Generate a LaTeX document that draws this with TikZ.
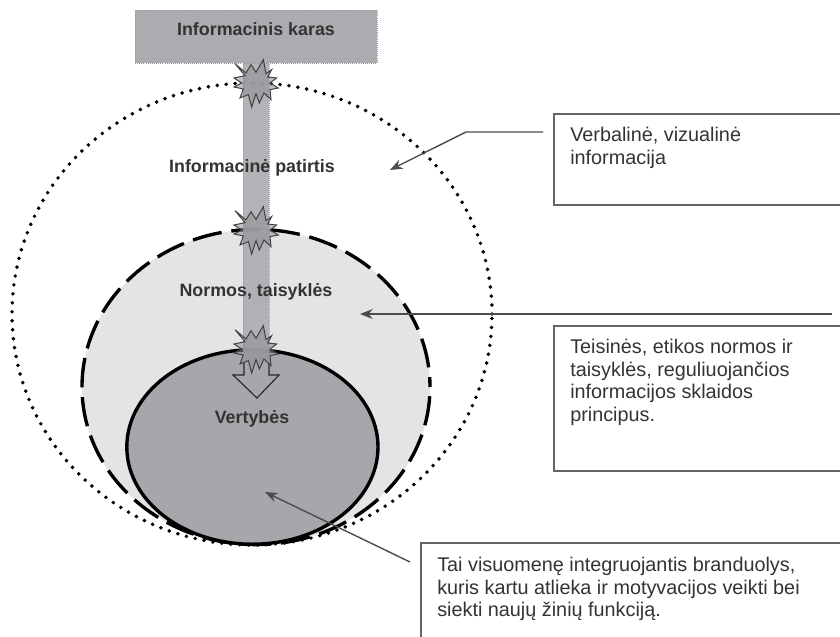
\documentclass[tikz,border=0pt]{standalone}
\usepackage{fontspec}
\setmainfont{Liberation Sans}
\usetikzlibrary{arrows.meta}
\definecolor{barfill}{HTML}{ABACB0}
\definecolor{corefill}{HTML}{A6A7AA}
\definecolor{normfill}{HTML}{E3E4E6}
\definecolor{burstfill}{HTML}{8E8F93}
\definecolor{inktext}{HTML}{333333}
\tikzset{
  ring/.style={line width=2.4pt},
  label/.style={font=\bfseries\fontsize{12.7}{14}\selectfont,text=inktext,inner sep=0pt},
  boxline/.style={draw=black!60,line width=1.2pt},
  note/.style={anchor=north west,align=left,font=\fontsize{14.1}{16.1}\selectfont,text=inktext,inner sep=0pt},
  pointer/.style={draw=black!70,line width=1pt,-{Stealth[length=9pt,width=7pt]}},
  burst/.pic={
    \draw[x=.00833cm,y=-.00833cm,draw=black!75,line width=.7pt,fill=burstfill,fill opacity=.55,line join=miter]
      (-63,-58)--(-30,-30)--(-15,-55)--(0,-32)--(22,-70)--(30,-28)--(47,-40)--(35,-18)
      --(62,-15)--(42,0)--(67,15)--(42,20)--(45,50)--(24,30)--(10,60)--(0,32)
      --(-13,72)--(-23,35)--(-48,45)--(-38,18)--(-66,12)--(-43,0)--(-66,-15)--(-33,-22)--cycle;
  }
}
\begin{document}
\begin{tikzpicture}
  \useasboundingbox (0,0) rectangle (21,15.925);
  % rings
  \draw[line cap=round,line width=2.8pt,dash pattern=on 0pt off 6.4pt] (6.3,8.075) ellipse [x radius=6cm,y radius=5.775cm];
  \fill[normfill] (6.4,6.25) ellipse [x radius=4.35cm,y radius=3.94cm];
  \draw[ring,dash pattern=on 21pt off 7pt,dash phase=14pt] (6.4,6.25) ellipse [x radius=4.35cm,y radius=3.94cm];
  \draw[ring,fill=corefill] (6.31,4.75) ellipse [x radius=3.14cm,y radius=2.43cm];
  % bar and heading
  \fill[barfill,fill opacity=.9] (6.08,7.125) rectangle (6.72,14.35);
  \draw[black!40,densely dotted,line width=.4pt] (6.08,7.125)--(6.08,14.35) (6.72,7.125)--(6.72,14.35);
  \node[draw=black!40,densely dotted,line width=.5pt,fill=barfill,minimum width=6.05cm,minimum height=1.325cm,inner sep=0pt] (war) at (6.4,15.0125) {};
  % open arrow
  \draw[black!85,line width=.8pt] (6.1,6.85)--(6.1,6.55)--(5.825,6.55)--(6.425,5.975)--(6.975,6.55)--(6.725,6.55)--(6.725,6.85);
  % bursts
  \foreach \y in {13.85,10.175,7.2}
    \pic at (6.4,\y) {burst};
  \node[label] (war text) at (6.4,15.2) {Informacinis karas};
  \node[label] (exp) at (6.3,11.725) {Informacinė patirtis};
  \node[label] (norms) at (6.4,8.625) {Normos, taisyklės};
  \node[label] (values) at (6.3,5.45) {Vertybės};
  % boxes, open towards the page edge
  \draw[boxline] (21,13.075)--(13.85,13.075)--(13.85,10.8)--(21,10.8);
  \draw[boxline] (21,7.775)--(13.85,7.775)--(13.85,4.15)--(21,4.15);
  \draw[boxline] (21,2.35)--(10.525,2.35)--(10.525,0);
  \node[note] (n1) at (14.25,12.75) {Verbalinė, vizualinė\\informacija};
  \node[note] (n2) at (14.25,7.45) {Teisinės, etikos normos ir\\taisyklės, reguliuojančios\\informacijos sklaidos\\principus.};
  \node[note] (n3) at (10.925,2) {Tai visuomenę integruojantis branduolys,\\kuris kartu atlieka ir motyvacijos veikti bei\\siekti naujų žinių funkciją.};
  % pointers
  \coordinate (p1s) at (13.575,12.625);
  \coordinate (p1m) at (11.65,12.625);
  \coordinate (p1e) at (9.75,11.675);
  \coordinate (p2s) at (20.8,8.075);
  \coordinate (p2e) at (9,8.075);
  \coordinate (p3s) at (10.25,1.875);
  \coordinate (p3e) at (6.625,3.625);
  \draw[pointer] (p1s)--(p1m)--(p1e);
  \draw[pointer] (p2s)--(p2e);
  \draw[pointer] (p3s)--(p3e);
\end{tikzpicture}
\end{document}
